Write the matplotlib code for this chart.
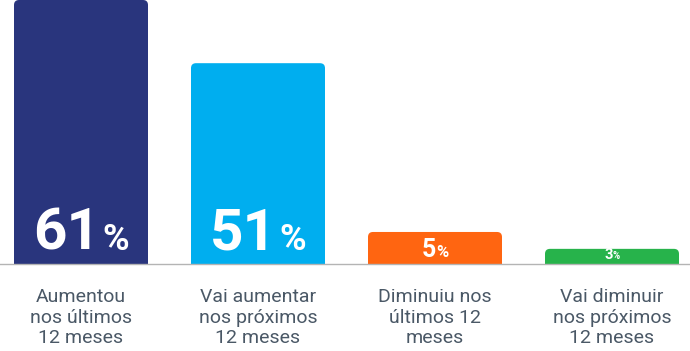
import matplotlib.pyplot as plt
from matplotlib.patches import FancyBboxPatch
from matplotlib.offsetbox import TextArea, HPacker, AnnotationBbox

plt.rcParams['font.family'] = ['Roboto', 'DejaVu Sans']

categories = ['Aumentou\nnos últimos\n12 meses',
              'Vai aumentar\nnos próximos\n12 meses',
              'Diminuiu nos\núltimos 12\nmeses',
              'Vai diminuir\nnos próximos\n12 meses']
values = [61, 51, 5, 3]
# bar lengths as drawn in the reference (not strictly proportional to the labels)
bar_heights = [61, 46.4, 7.4, 3.5]
colors = ['#29357d', '#00aeef', '#ff6511', '#27b34b']
num_sizes = [42, 42, 18, 10.5]
pct_sizes = [26, 26, 12, 7]
seps = [1.5, 1.5, 0.5, 0]

fig = plt.figure(figsize=(6.9, 3.51), dpi=100)
ax = fig.add_axes([0, 87 / 351, 1, 264 / 351])
ax.set_xlim(-81 / 177, (690 - 81) / 177)
ax.set_ylim(0, 61)
ax.axis('off')

width = 134 / 177
px_x = 1 / 177
px_y = 61 / 264
r = 5
for i, h in enumerate(bar_heights):
    box = FancyBboxPatch((i - width / 2, -2), width, h + 2,
                         boxstyle=f'round,pad=0,rounding_size={r * px_x}',
                         mutation_aspect=px_y / px_x,
                         facecolor=colors[i], edgecolor='none')
    ax.add_patch(box)

    num = TextArea(str(values[i]), textprops=dict(color='white', fontsize=num_sizes[i], fontweight='bold'))
    pct = TextArea('%', textprops=dict(color='white', fontsize=pct_sizes[i], fontweight='bold'))
    pack = HPacker(children=[num, pct], align='baseline', pad=0, sep=seps[i])
    ab = AnnotationBbox(pack, (i, 0), xybox=(0, 2), xycoords='data', boxcoords='offset pixels',
                        box_alignment=(0.5, 0.0), frameon=False, pad=0)
    ax.add_artist(ab)

    fig.text((81 + 177 * i) / 690, 1 - 288 / 351, categories[i], ha='center', va='top',
             fontsize=14, color='#4a5866', linespacing=1.18)

fig.add_artist(plt.Line2D([0, 1], [87 / 351, 87 / 351], color='#b4b4b4', lw=1))

fig.savefig('out.png', dpi=100)
